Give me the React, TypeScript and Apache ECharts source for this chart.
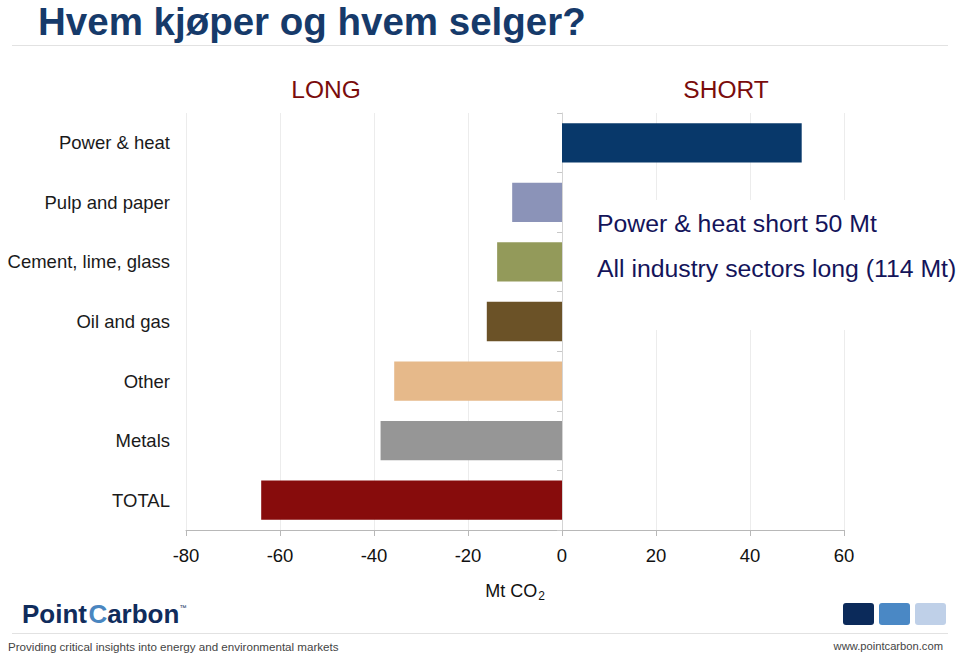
import React, { useEffect, useRef } from "react";
import * as echarts from "echarts";

const categories = [
  "Power & heat",
  "Pulp and paper",
  "Cement, lime, glass",
  "Oil and gas",
  "Other",
  "Metals",
  "TOTAL",
];
const values = [51, -10.6, -13.8, -16, -35.7, -38.6, -64];
const barColors = ["#08386a", "#8b93b8", "#939a5a", "#6b5227", "#e6b98a", "#969696", "#870c0c"];
const xTicks = { min: -80, max: 60, interval: 20 };
const titleText = "Hvem kjøper og hvem selger?";
const noteLines = ["Power & heat short 50 Mt", "All industry sectors long (114 Mt)"];
const footerLeft = "Providing critical insights into energy and environmental markets";
const footerRight = "www.pointcarbon.com";

const FONT = "'Liberation Sans', Arial, Helvetica, sans-serif";

export default function App() {
  const ref = useRef<HTMLDivElement>(null);
  useEffect(() => {
    if (!ref.current) return;
    const chart = echarts.init(ref.current, null, { renderer: "svg" });
    chart.setOption({
      animation: false,
      backgroundColor: "#ffffff",
      textStyle: { fontFamily: FONT },
      grid: { left: 186, right: 116, top: 113, bottom: 124, containLabel: false },
      xAxis: {
        type: "value",
        min: xTicks.min,
        max: xTicks.max,
        interval: xTicks.interval,
        axisLine: { show: true, lineStyle: { color: "#b8b8b8", width: 1 } },
        axisTick: { show: true, length: 6, lineStyle: { color: "#b8b8b8" } },
        axisLabel: { fontSize: 18.5, color: "#111", margin: 16, fontFamily: FONT },
        splitLine: { show: true, lineStyle: { color: "#ececec", width: 1 } },
        name: "{a|Mt CO}{b|2}",
        nameLocation: "middle",
        nameGap: 50,
        nameTextStyle: {
          rich: {
            a: { fontSize: 18, color: "#111", fontFamily: FONT },
            b: { fontSize: 12, color: "#111", fontFamily: FONT, padding: [10, 0, 0, 1] },
          },
        },
      },
      yAxis: [
        {
          type: "category",
          data: categories,
          inverse: true,
          axisLine: { show: false, onZero: false },
          axisTick: { show: false },
          axisLabel: { fontSize: 18.5, color: "#1a1a1a", margin: 16, fontFamily: FONT },
          splitLine: { show: false },
        },
        {
          type: "category",
          data: categories,
          inverse: true,
          position: "left",
          axisLine: { show: true, onZero: true, lineStyle: { color: "#d4d4d4" } },
          axisTick: { show: true, length: 5, lineStyle: { color: "#c8c8c8" } },
          axisLabel: { show: false },
          splitLine: { show: false },
        },
      ],
      series: [
        {
          type: "bar",
          yAxisIndex: 0,
          barCategoryGap: "34%",
          data: values.map((v, i) => ({ value: v, itemStyle: { color: barColors[i] } })),
          z: 3,
        },
      ],
      graphic: [
        {
          type: "text",
          left: 38,
          top: 2,
          style: { text: titleText, fontSize: 38.5, fontWeight: "bold", fill: "#163a6a", fontFamily: FONT },
        },
        {
          type: "line",
          shape: { x1: 12, y1: 45.5, x2: 948, y2: 45.5 },
          style: { stroke: "#e2e2e2", lineWidth: 1 },
        },
        {
          type: "text",
          x: 326,
          y: 89,
          style: { text: "LONG", fontSize: 24.5, fill: "#7a0c0c", fontFamily: FONT, align: "center", verticalAlign: "middle" },
        },
        {
          type: "text",
          x: 726,
          y: 89,
          style: { text: "SHORT", fontSize: 24.5, fill: "#7a0c0c", fontFamily: FONT, align: "center", verticalAlign: "middle" },
        },
        {
          type: "rect",
          z: 1,
          shape: { x: 572, y: 200, width: 388, height: 130 },
          style: { fill: "#ffffff" },
        },
        {
          type: "text",
          z: 5,
          x: 597,
          y: 223,
          style: { text: noteLines[0], fontSize: 24.8, fill: "#14145a", fontFamily: FONT, verticalAlign: "middle" },
        },
        {
          type: "text",
          z: 5,
          x: 597,
          y: 268,
          style: { text: noteLines[1], fontSize: 24.8, fill: "#14145a", fontFamily: FONT, verticalAlign: "middle" },
        },
        {
          type: "text",
          x: 22,
          y: 614,
          style: {
            text: "{p|Point}{g| }{c|C}{p|arbon}{t|™}",
            verticalAlign: "middle",
            rich: {
              p: { fontSize: 26, fontWeight: "bold", fill: "#102c5c", fontFamily: FONT },
              c: { fontSize: 26, fontWeight: "bold", fill: "#4a86c0", fontFamily: FONT },
              g: { fontSize: 5 },
              t: { fontSize: 7, fill: "#102c5c", fontFamily: FONT, padding: [0, 0, 14, 0] },
            },
          },
        },
        {
          type: "rect",
          shape: { x: 843, y: 603, width: 31, height: 22, r: 3 },
          style: { fill: "#0b2a5a" },
        },
        {
          type: "rect",
          shape: { x: 879, y: 603, width: 31, height: 22, r: 3 },
          style: { fill: "#4a88c5" },
        },
        {
          type: "rect",
          shape: { x: 915, y: 603, width: 31, height: 22, r: 3 },
          style: { fill: "#bfd0e8" },
        },
        {
          type: "line",
          shape: { x1: 12, y1: 633.5, x2: 948, y2: 633.5 },
          style: { stroke: "#e2e2e2", lineWidth: 1 },
        },
        {
          type: "text",
          x: 8,
          y: 646,
          style: { text: footerLeft, fontSize: 11.6, fill: "#444", fontFamily: FONT, verticalAlign: "middle" },
        },
        {
          type: "text",
          x: 943,
          y: 646,
          style: { text: footerRight, fontSize: 11.2, fill: "#444", fontFamily: FONT, align: "right", verticalAlign: "middle" },
        },
      ],
    });
    return () => chart.dispose();
  }, []);
  return (
    <div
      ref={ref}
      style={{ position: "fixed", left: 0, top: 0, width: 960, height: 654 }}
    />
  );
}
